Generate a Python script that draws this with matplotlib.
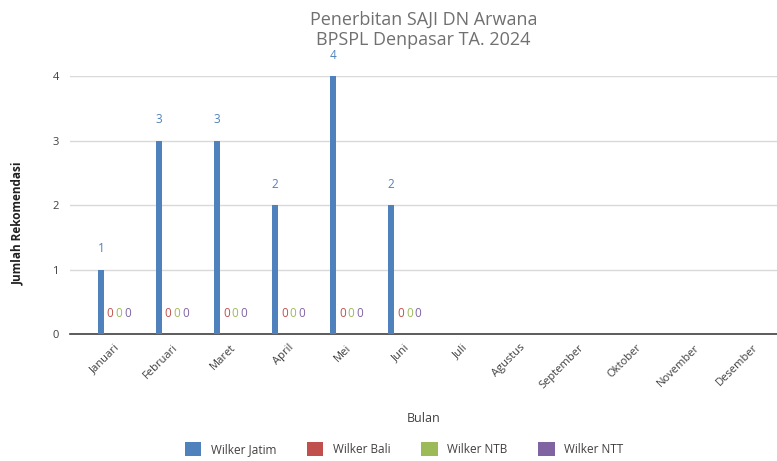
import matplotlib.pyplot as plt
import numpy as np

months = ['Januari', 'Februari', 'Maret', 'April', 'Mei', 'Juni', 'Juli',
          'Agustus', 'September', 'Oktober', 'November', 'Desember']
series = ['Wilker Jatim', 'Wilker Bali', 'Wilker NTB', 'Wilker NTT']
jatim = [1, 3, 3, 2, 4, 2]
bali = [0, 0, 0, 0, 0, 0]
ntb = [0, 0, 0, 0, 0, 0]
ntt = [0, 0, 0, 0, 0, 0]
colors = ['#4F81BD', '#C0504D', '#9BBB59', '#8064A2']

plt.rcParams['font.family'] = ['Open Sans', 'DejaVu Sans']

fig = plt.figure(figsize=(7.77, 4.61), dpi=100)
ax = fig.add_axes([0.09, 0.2755, 0.91, 0.5595])

x = np.arange(len(jatim))
step = 0.155
for i, (name, vals) in enumerate(zip(series, [jatim, bali, ntb, ntt])):
    pos = x - 0.22 + i * step
    ax.bar(pos, vals, width=0.1, color=colors[i], label=name, zorder=3)
    for p, v in zip(pos, vals):
        ax.text(p, v + 0.22, str(v), ha='center', va='bottom',
                color=colors[i], fontsize=8.5, clip_on=False)

ax.set_xlim(-0.76, 11.43)
ax.set_ylim(0, 4)
ax.set_yticks(range(0, 5))
ax.set_xticks(np.arange(len(months)))
ax.set_xticklabels(months, rotation=45, ha='right', rotation_mode='anchor',
                   fontsize=8, color='#404040')
ax.tick_params(axis='y', labelsize=8, colors='#404040', length=0, pad=8)
ax.tick_params(axis='x', length=0, pad=6)
ax.grid(axis='y', color='#D9D9D9', linewidth=1, zorder=0)
for s in ['top', 'right', 'left']:
    ax.spines[s].set_visible(False)
ax.spines['bottom'].set_color('#404040')
ax.spines['bottom'].set_linewidth(1.2)

ax.set_xlabel('Bulan', fontsize=9, color='#404040', labelpad=15)
fig.text(0.023, 0.515, 'Jumlah Rekomendasi', rotation=90, ha='center',
         va='center', fontsize=8.5, fontweight='bold', color='#202020')
fig.text(0.545, 0.935, 'Penerbitan SAJI DN Arwana\nBPSPL Denpasar TA. 2024',
         ha='center', va='center', fontsize=13, color='#707070',
         linespacing=1.15)

fig.legend(loc='lower center', bbox_to_anchor=(0.52, -0.012), ncol=4,
           frameon=False, fontsize=8.5, handlelength=1.4, handleheight=1.4,
           columnspacing=2.6, labelcolor='#404040')

plt.savefig('out.png', dpi=100)
